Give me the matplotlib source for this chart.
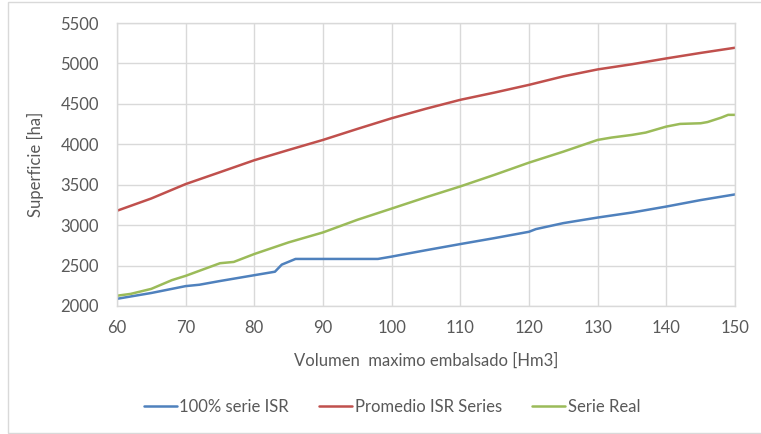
import matplotlib
matplotlib.use('Agg')
import matplotlib.pyplot as plt
from matplotlib.patches import Rectangle

# Datos
vol_isr100 = [60, 65, 70, 72, 75, 80, 83, 84, 86, 98, 100, 102, 105, 110, 115, 120, 121, 125, 130, 135, 140, 145, 150]
sup_isr100 = [2089, 2161, 2246, 2263, 2309, 2381, 2424, 2512, 2582, 2582, 2611, 2643, 2690, 2766, 2840, 2918, 2951, 3025, 3094, 3156, 3230, 3310, 3380]

vol_prom = [60, 65, 70, 75, 80, 85, 90, 95, 100, 105, 110, 115, 120, 125, 130, 135, 140, 145, 150]
sup_prom = [3178, 3330, 3508, 3655, 3803, 3930, 4054, 4190, 4322, 4440, 4550, 4640, 4735, 4840, 4926, 4990, 5062, 5130, 5194]

vol_real = [60, 62, 65, 68, 70, 75, 77, 80, 85, 90, 95, 100, 105, 110, 115, 120, 125, 130, 132, 135, 137, 140, 142, 145, 146, 148, 149, 150]
sup_real = [2127, 2150, 2212, 2320, 2373, 2529, 2545, 2643, 2787, 2910, 3066, 3205, 3345, 3479, 3623, 3773, 3909, 4054, 4083, 4116, 4145, 4219, 4252, 4260, 4275, 4330, 4364, 4364]

labels = ['100% serie ISR', 'Promedio ISR Series', 'Serie Real']
colors = ['#4F81BD', '#C0504D', '#9BBB59']

plt.rcParams['font.family'] = ['Lato', 'DejaVu Sans']
txt = '#595959'
grid = '#d9d9d9'

W, H = 761, 434
fig = plt.figure(figsize=(W / 100, H / 100), dpi=100)
ax = fig.add_axes([117 / W, 1 - 306 / H, (735 - 117) / W, (306 - 23) / H])

lines = []
for xs, ys, c in zip([vol_isr100, vol_prom, vol_real], [sup_isr100, sup_prom, sup_real], colors):
    l, = ax.plot(xs, ys, color=c, lw=1.8, solid_capstyle='round')
    lines.append(l)

ax.set_xlim(60, 150)
ax.set_ylim(2000, 5500)
ax.set_xticks(range(60, 151, 10))
ax.set_yticks(range(2000, 5501, 500))
ax.grid(True, color=grid, lw=1)
ax.set_axisbelow(True)
for s in ax.spines.values():
    s.set_color(grid)
    s.set_linewidth(1)
ax.tick_params(length=0, labelsize=12, colors=txt)
ax.tick_params(axis='y', pad=13)
ax.tick_params(axis='x', pad=10)

ax.set_xlabel('Volumen  maximo embalsado [Hm3]', fontsize=12, color=txt, labelpad=12)
ax.set_ylabel('Superficie [ha]', fontsize=12, color=txt, labelpad=12)

fig.legend(lines, labels, loc='center', bbox_to_anchor=(392 / W, 1 - 407 / H), ncol=3,
           frameon=False, fontsize=12, labelcolor=txt, handlelength=2.0,
           handletextpad=0.15, columnspacing=1.8)

fig.patches.append(Rectangle((8 / W, 1 / H), 1.2, (432 - 1) / H, transform=fig.transFigure,
                             fill=False, edgecolor=grid, lw=1))

fig.savefig('out.png', dpi=100)
